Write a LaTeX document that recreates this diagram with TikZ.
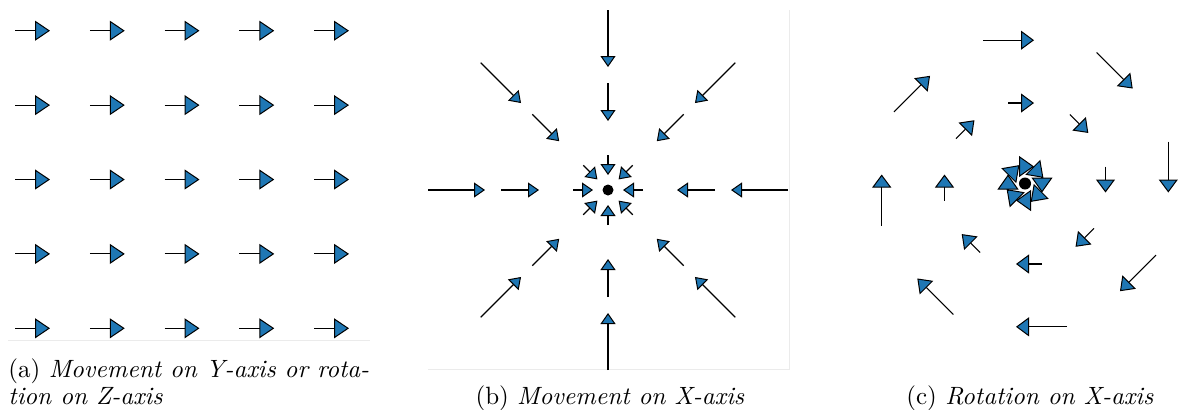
\documentclass[tikz,border=0pt]{standalone}
\usepackage{amsmath}
\usepackage{tikz}
\usetikzlibrary{calc,arrows.meta}

\definecolor{qblue}{HTML}{1F77B4}
\tikzset{
  qa/.style={line width=0.45pt,-{Triangle[length=6pt,width=8pt,fill=qblue,line width=0.4pt]}},
  qb/.style={line width=0.45pt,-{Triangle[length=4.4pt,width=6pt,fill=qblue,line width=0.4pt]}},
  qc/.style={line width=0.45pt,-{Triangle[length=5.2pt,width=7.6pt,fill=qblue,line width=0.4pt]}},
  qcin/.style={line width=0.45pt,-{Triangle[length=6pt,width=8.4pt,fill=qblue,line width=0.4pt]}},
  spine/.style={black!8,line width=0.4pt},
  captext/.style={anchor=base,inner sep=0pt}
}

\begin{document}
\begin{tikzpicture}[x=0.4pt,y=-0.4pt]
  \useasboundingbox (0,0) rectangle (1179,409);
  % (a) uniform field
  \foreach \i in {0,...,4}
    \foreach \j in {0,...,4}
      \draw[qa] (15+74.75*\i,30.7+74.4*\j) -- (50+74.75*\i,30.7+74.4*\j);
  \draw[spine] (8,340) -- (370,340);
  \node[captext,anchor=base west] (capa1) at (8,377) {(a) \textit{Movement on Y-axis or rota-}};
  \node[captext,anchor=base west] (capa2) at (8,404) {\textit{tion on Z-axis}};
  % (b) field towards the centre
  \coordinate (cb) at (608,190);
  \draw[spine] (428,369) -- (789,369) -- (789,10);
  \foreach \a in {0,45,...,315}
    \foreach \r/\l in {15/20,69/38,123/57}
      \draw[qb] ($(cb)+(\a:\r+\l)$) -- ($(cb)+(\a:\r)$);
  \fill (cb) circle[radius=5.5];
  \node[captext] (capb) at (610,404) {(b) \textit{Movement on X-axis}};
  % (c) rotation, clockwise on the page
  \coordinate (cc) at (1025,183.5);
  \foreach \a in {0,45,...,315} {
    \foreach \r/\l in {80.5/26,143.3/51} {
      \coordinate (t) at ($(cc)+(\a:\r)+(\a+90:9)$);
      \draw[qc] ($(t)+(\a-90:\l)$) -- (t);
    }
    % inner ring, heads overlap
    \coordinate (t) at ($(cc)+(\a:17)+(\a+90:9)$);
    \draw[qcin] ($(t)+(\a-90:16)$) -- (t);
  }
  \fill (cc) circle[radius=6];
  \node[captext] (capc) at (1030,404) {(c) \textit{Rotation on X-axis}};
\end{tikzpicture}
\end{document}
